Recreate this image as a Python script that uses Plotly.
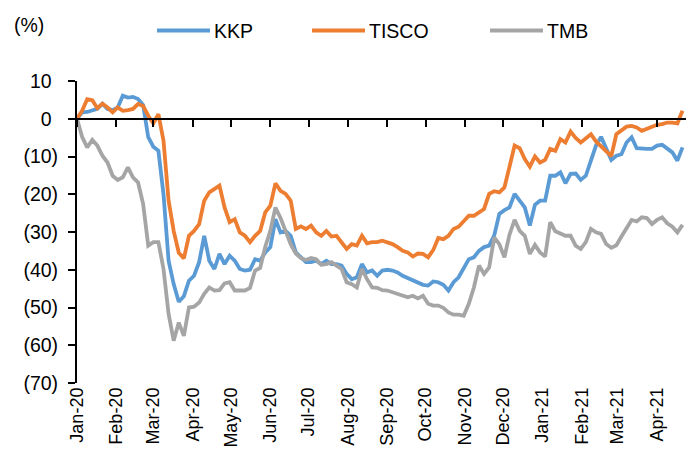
import pandas as pd
import plotly.graph_objects as go

# Observation dates (every 4 days, 1 Jan 2020 -> 21 Apr 2021)
dates = pd.date_range("2020-01-01", periods=120, freq="4D")

kkp = [0, 1.7, 1.8, 2.1, 2.6, 4.0, 2.6, 2.3, 3.0, 6.1, 5.6, 5.8, 5.2, 3.6, -4.9, -7.4, -8.5, -20, -37.6, -43.8,
       -48.5, -47, -42.9, -41.6, -38, -31, -37.6, -39.8, -35.8, -38.5, -36.3, -37.6,
       -39.8, -40.2, -40, -37.2, -37.6, -35.4, -34, -26.6, -30.1, -29.7, -31, -35.4, -36.7, -38, -38, -37.6,
       -38.5, -37.6, -38.5, -38.5, -38.9, -41.1, -42.5, -42, -38.5, -40.7, -40.2, -41.6, -40.2, -40, -40.2,
       -40.7, -41.6, -42.2, -42.9, -43.6, -44, -44.2, -43.1, -43.3, -44, -45.5, -43.3, -42, -39.4, -37.2,
       -36.7, -35, -34, -33.6, -30.9, -25.2, -24.2, -23.5, -19.9, -21.7, -23.5, -28.3, -22.8, -21.7, -21.7,
       -15.1, -15.1, -14.2, -17.1, -14.6, -14.5, -16.2, -15.1, -11.1, -7.1, -4.8, -7.6, -10.9, -9.8, -9.4,
       -6.3, -4.9, -7.8, -8, -8, -8, -7.1, -6.9, -8, -8.9, -11.1, -7.6]

tisco = [0, 2.1, 5.2, 4.9, 2.8, 4.0, 3.0, 1.7, 3.0, 2.1, 2.3, 2.6, 3.9, 3.4, 0.8, -1.2, 1.2, -5.8, -21.7, -29.7,
         -35.5, -37, -31, -29.7, -27.9, -21.7, -19.5, -18.6, -17.7, -23.5, -27.4, -26.6,
         -30.1, -31, -32.7, -31, -29.7, -24.8, -23, -17.1, -19.1, -19.9, -21.7, -29.2, -28.5, -29.2, -28.3,
         -30.1, -31, -29.7, -31.2, -31, -32.7, -34.5, -33.2, -33.6, -31, -33, -32.7, -32.7, -32.3, -32.7,
         -33.2, -34, -35, -35.4, -36.5, -35.7, -35.8, -36.7, -34.8, -31.6, -31.9, -31, -29.2, -28.6, -27, -25.7,
         -25.7, -24.8, -23.9, -19.9, -19.2, -19.5, -18.2, -12.7, -7.1, -7.8, -10.7, -12.7, -10, -11.6, -10.9,
         -8, -8.5, -5.4, -6.3, -3.4, -5.1, -6.3, -5.1, -4.1, -6, -7.4, -8.6, -9.9, -4.1, -3.2, -2.1, -1.9,
         -2.3, -3.2, -2.7, -2.3, -1.6, -1.4, -1, -1, -1.2, 2.1]

tmb = [0, -4.8, -7.6, -5.6, -7.1, -9.8, -11.6, -15.1, -16.2, -15.5, -12.9, -15.5, -16.9, -22.6, -33.6, -32.7,
       -32.7, -39.8, -51.7, -58.8, -54, -57.5, -50, -49.8, -48.7, -46.4, -44.7, -45.5, -45.4, -43.6, -43.3, -45.5,
       -45.5, -45.5, -44.8, -40.2, -39.5, -33.9, -29.7, -23.5, -26.3, -29.7, -33.2, -35.7, -36.9, -37.4, -36.9,
       -37.2, -38.7, -38.5, -38, -38.9, -39.8, -43.3, -43.8, -44.7, -39.8, -42.5, -44.7, -44.8, -45.4, -45.5,
       -46, -46.4, -46.9, -47.3, -46.9, -47.6, -46.9, -49, -49.5, -49.5, -50.1, -51.3, -51.9, -51.9, -52.2, -49,
       -44.7, -38.9, -41.1, -39.4, -31.4, -33.2, -36.7, -30.7, -26.8, -29.7, -31, -35.8, -33.4, -35.4, -36.5,
       -27.4, -29.8, -30.5, -31, -31, -33.6, -34.5, -32.7, -29.2, -30.1, -30.5, -33.2, -34.2, -33.5, -31.2,
       -29.2, -26.8, -27.2, -26.1, -26.3, -27.9, -26.8, -26.1, -27.7, -28.6, -30.1, -28.1]

month_ticks = ["2020-01-01", "2020-02-01", "2020-03-01", "2020-04-01", "2020-05-01", "2020-06-01",
               "2020-07-01", "2020-08-01", "2020-09-01", "2020-10-01", "2020-11-01", "2020-12-01",
               "2021-01-01", "2021-02-01", "2021-03-01", "2021-04-01"]
month_labels = ["Jan-20", "Feb-20", "Mar-20", "Apr-20", "May-20", "Jun-20", "Jul-20", "Aug-20",
                "Sep-20", "Oct-20", "Nov-20", "Dec-20", "Jan-21", "Feb-21", "Mar-21", "Apr-21"]
y_ticks = [10, 0, -10, -20, -30, -40, -50, -60, -70]
y_labels = ["10", "0", "(10)", "(20)", "(30)", "(40)", "(50)", "(60)", "(70)"]

names = ["KKP", "TISCO", "TMB"]
values = [kkp, tisco, tmb]
colors = ["#5B9BD5", "#ED7D31", "#A5A5A5"]

FONT = "Arial, Liberation Sans, sans-serif"
W, H = 687, 458           # page body has an 8px margin
L, R, T, B = 69, 9, 73, 83
PW, PH = W - L - R, H - T - B


def px(xp):   # page pixel -> paper x
    return (xp - 8 - L) / PW


def py(yp):   # page pixel -> paper y
    return 1 - (yp - 8 - T) / PH


# positive numbers carry an invisible ")" like the Excel "_)" format
pad = "<span style='color:white'>)</span>"
y_text = [t if t.startswith("(") else t + pad for t in y_labels]

fig = go.Figure()
for name, vals, col in zip(names, values, colors):
    fig.add_trace(go.Scatter(x=dates, y=vals, mode="lines", name=name,
                             line=dict(color=col, width=3.8), showlegend=False))
# empty trace that activates the axis crossing at zero
fig.add_trace(go.Scatter(x=[], y=[], xaxis="x2", yaxis="y", showlegend=False, hoverinfo="skip"))

x_range = ["2020-01-01", "2021-04-23 18:00"]
fig.update_layout(
    width=W, height=H,
    margin=dict(l=L, r=R, t=T, b=B, autoexpand=False),
    paper_bgcolor="white", plot_bgcolor="white",
    font=dict(family=FONT, size=19, color="black"),
    showlegend=False,
    xaxis=dict(type="date", range=x_range, tickvals=month_ticks, ticktext=month_labels,
               tickangle=-90, showline=False, ticks="", showgrid=False, zeroline=False,
               tickfont=dict(size=18)),
    xaxis2=dict(type="date", matches="x", overlaying="x", anchor="free", position=70 / 80,
                side="bottom", showline=True, linecolor="black", linewidth=2,
                ticks="outside", ticklen=7, tickwidth=2, tickcolor="black",
                tickvals=month_ticks, showticklabels=False, showgrid=False, zeroline=False),
    yaxis=dict(range=[-70, 10], tickvals=y_ticks, ticktext=y_text, showline=True,
               linecolor="black", linewidth=2, ticks="outside", ticklen=7, tickwidth=2,
               tickcolor="black", showgrid=False, zeroline=False, tickfont=dict(size=19.5),
               ticklabelstandoff=6),
)

# legend drawn by hand to match the spacing of the original
leg_line_x = [157, 312, 490]
for name, col, x0 in zip(names, colors, leg_line_x):
    fig.add_shape(type="line", xref="paper", yref="paper", x0=px(x0), x1=px(x0 + 53),
                  y0=py(30.5), y1=py(30.5), line=dict(color=col, width=4))
    fig.add_annotation(text=name, xref="paper", yref="paper", x=px(x0 + 55), y=py(31),
                       xanchor="left", yanchor="middle", showarrow=False,
                       font=dict(size=19.5))

fig.add_annotation(text="(%)", xref="paper", yref="paper", x=px(29), y=py(25),
                   xanchor="center", yanchor="middle", showarrow=False, font=dict(size=19.5))
fig.write_html("out.html")
